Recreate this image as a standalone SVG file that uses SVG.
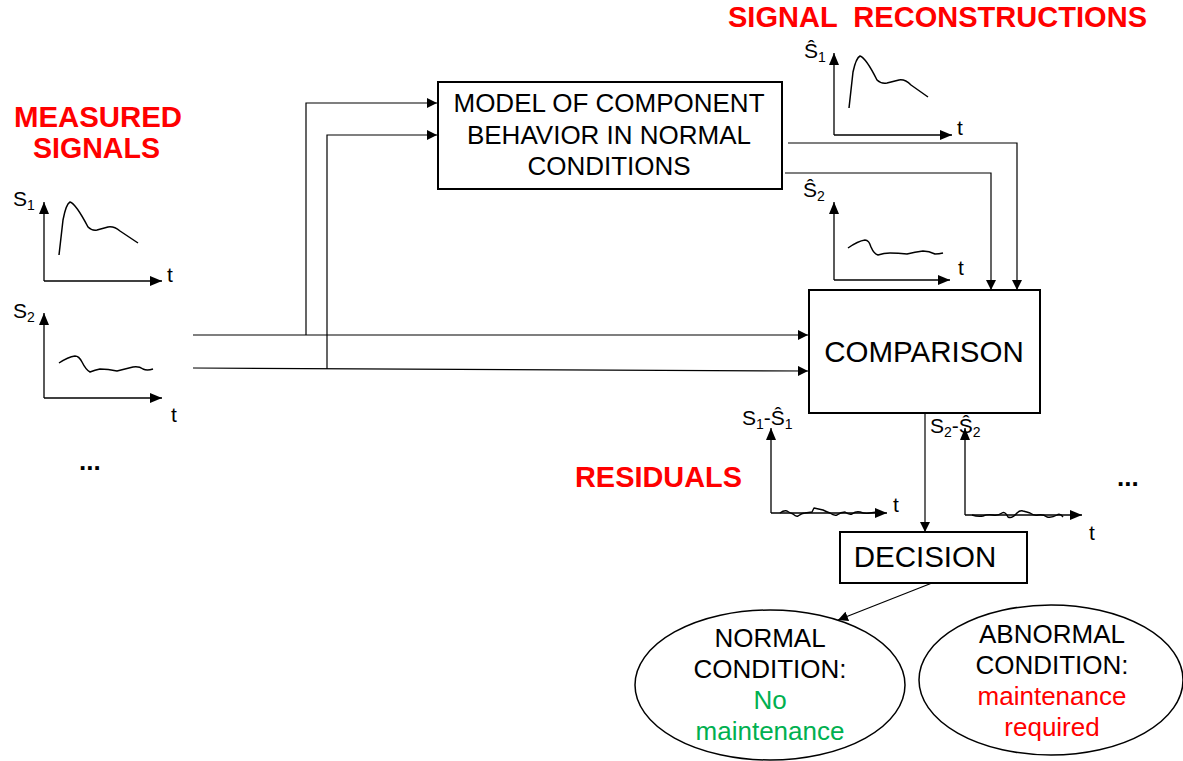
<svg xmlns="http://www.w3.org/2000/svg" width="1183" height="761" viewBox="0 0 1183 761">
  <defs>
    <marker id="arrow" viewBox="0 0 10 10" refX="10" refY="5" markerWidth="10" markerHeight="10" markerUnits="userSpaceOnUse" orient="auto">
      <path d="M0,0 L10,5 L0,10 Z" fill="#000"/>
    </marker>
    <marker id="axis" viewBox="0 0 12 10" refX="12" refY="5" markerWidth="12" markerHeight="10" markerUnits="userSpaceOnUse" orient="auto">
      <path d="M0,0 L12,5 L0,10 Z" fill="#000"/>
    </marker>
  </defs>
  <style>
    text { font-family: "Liberation Sans", Arial, sans-serif; fill: #000; }
    .title { font-weight: bold; font-size: 29px; fill: #ff0000; }
    .box { fill: #fff; stroke: #000; stroke-width: 2; }
    .ell { fill: #fff; stroke: #000; stroke-width: 1.5; }
    .boxtxt { font-size: 26px; text-anchor: middle; }
    .big { font-size: 29.5px; }
    .conn { fill: none; stroke: #000; stroke-width: 1.2; }
    .ax { fill: none; stroke: #000; stroke-width: 1.3; }
    .curve { fill: none; stroke: #000; stroke-width: 1.5; stroke-linejoin: round; }
    .noise { fill: none; stroke: #000; stroke-width: 1.4; stroke-linejoin: round; }
    .lbl { font-size: 21px; }
    .sub { font-size: 14px; }
    .green { fill: #00b050; }
    .red { fill: #ff0000; }
    .dots { font-size: 26px; font-weight: bold; }
  </style>

  <rect width="1183" height="761" fill="#fff"/>

  <!-- section headings -->
  <g id="headings">
    <text class="title" x="14" y="127" textLength="168" lengthAdjust="spacingAndGlyphs">MEASURED</text>
    <text class="title" x="33" y="158" textLength="127" lengthAdjust="spacingAndGlyphs">SIGNALS</text>
    <text class="title" x="728" y="27" textLength="419" lengthAdjust="spacing" xml:space="preserve">SIGNAL  RECONSTRUCTIONS</text>
    <text class="title" x="575" y="487" textLength="167" lengthAdjust="spacingAndGlyphs">RESIDUALS</text>
  </g>

  <!-- connectors -->
  <g id="connectors">
    <polyline class="conn" points="193,335 808,335" marker-end="url(#arrow)"/>
    <polyline class="conn" points="193,368 808,371" marker-end="url(#arrow)"/>
    <polyline class="conn" points="306,335 306,103 437,103" marker-end="url(#arrow)"/>
    <polyline class="conn" points="327,369 327,135 437,135" marker-end="url(#arrow)"/>
    <polyline class="conn" points="788,143 1017,143 1017,290" marker-end="url(#arrow)"/>
    <polyline class="conn" points="785,173 991,173 991,290" marker-end="url(#arrow)"/>
    <polyline class="conn" points="925,414 925,532" marker-end="url(#arrow)"/>
    <line class="conn" x1="932" y1="583" x2="838" y2="620" marker-end="url(#arrow)"/>
  </g>

  <!-- measured signal S1 -->
  <g id="plot-s1">
    <polyline class="ax" points="44,281 44,202" marker-end="url(#axis)"/>
    <polyline class="ax" points="44,281 162,281" marker-end="url(#axis)"/>
    <path class="curve" d="M59,255 L63,220 Q66,204 70,202 Q76,204 88,227 Q92,231 97,230 L108,227 Q114,226 120,231 L138,243"/>
    <text class="lbl" x="13" y="206">S<tspan class="sub" dy="4">1</tspan></text>
    <text class="lbl" x="167" y="282">t</text>
  </g>

  <!-- measured signal S2 -->
  <g id="plot-s2">
    <polyline class="ax" points="44,398 44,313" marker-end="url(#axis)"/>
    <polyline class="ax" points="44,398 162,398" marker-end="url(#axis)"/>
    <path class="curve" d="M59,363 Q68,357 75,356 Q79,356 82,362 Q86,370 90,372 Q95,370 100,369 Q108,369 117,371 Q125,369 133,367 Q139,366 143,369 Q147,371 153,369"/>
    <text class="lbl" x="13" y="318">S<tspan class="sub" dy="4">2</tspan></text>
    <text class="lbl" x="171" y="422">t</text>
  </g>

  <text class="dots" x="79" y="470">...</text>

  <!-- model block -->
  <g id="model">
    <rect class="box" x="438" y="82" width="344" height="107"/>
    <text class="boxtxt" x="609" y="112">MODEL OF COMPONENT</text>
    <text class="boxtxt" x="609" y="144">BEHAVIOR IN NORMAL</text>
    <text class="boxtxt" x="609" y="175">CONDITIONS</text>
  </g>

  <!-- reconstructed signal S1 -->
  <g id="plot-s1-hat">
    <polyline class="ax" points="834,135 834,53" marker-end="url(#axis)"/>
    <polyline class="ax" points="834,135 952,135" marker-end="url(#axis)"/>
    <path class="curve" d="M849,108 L853,72 Q856,58 860,56 Q866,58 877,80 Q881,84 887,83 L899,80 Q905,79 911,85 L928,97"/>
    <text class="lbl" x="804" y="58">Ŝ<tspan class="sub" dy="4">1</tspan></text>
    <text class="lbl" x="957" y="135">t</text>
  </g>

  <!-- reconstructed signal S2 -->
  <g id="plot-s2-hat">
    <polyline class="ax" points="834,280 834,202" marker-end="url(#axis)"/>
    <polyline class="ax" points="834,280 950,280" marker-end="url(#axis)"/>
    <path class="curve" d="M848,248 Q858,241 865,240 Q869,240 871,247 Q874,254 878,255 Q884,253 890,253 Q898,253 907,254 Q915,252 923,251 Q929,251 935,254 Q939,254 943,253"/>
    <text class="lbl" x="803" y="197">Ŝ<tspan class="sub" dy="4">2</tspan></text>
    <text class="lbl" x="958" y="275">t</text>
  </g>

  <!-- comparison block -->
  <g id="comparison">
    <rect class="box" x="809" y="290" width="231" height="123"/>
    <text class="boxtxt big" x="924" y="362">COMPARISON</text>
  </g>

  <!-- residual S1 - S1hat -->
  <g id="residual-1">
    <polyline class="ax" points="771,513 771,428" marker-end="url(#axis)"/>
    <polyline class="ax" points="771,513 887,513" marker-end="url(#axis)"/>
    <path class="noise" d="M780,513 Q784,510 787,511 Q790,513 793,514 Q796,517 798,516 Q802,513 805,513 L812,512 L814,508 L823,510 Q827,512 830,513 Q834,516 837,515 Q841,512 845,512 Q849,515 852,514 Q856,511 860,512 Q865,514 870,513 L877,512"/>
    <text class="lbl" x="742" y="425">S<tspan class="sub" dy="4">1</tspan><tspan dy="-4">-Ŝ</tspan><tspan class="sub" dy="4">1</tspan></text>
    <text class="lbl" x="893" y="512">t</text>
  </g>

  <!-- residual S2 - S2hat -->
  <g id="residual-2">
    <polyline class="ax" points="965,515 965,428" marker-end="url(#axis)"/>
    <polyline class="ax" points="965,515 1082,515" marker-end="url(#axis)"/>
    <path class="noise" d="M972,515 Q978,517 983,516 Q988,514 993,515 Q998,516 1002,513 Q1005,511 1008,517 Q1012,519 1017,513 Q1020,510 1023,511 Q1027,512 1030,513 Q1034,516 1038,515 Q1043,514 1047,517 Q1052,518 1057,515 Q1060,513 1063,517"/>
    <text class="lbl" x="930" y="433">S<tspan class="sub" dy="4">2</tspan><tspan dy="-4">-Ŝ</tspan><tspan class="sub" dy="4">2</tspan></text>
    <text class="lbl" x="1089" y="540">t</text>
  </g>

  <text class="dots" x="1117" y="486">...</text>

  <!-- decision block -->
  <g id="decision">
    <rect class="box" x="840" y="532" width="187" height="51"/>
    <text class="boxtxt big" x="925" y="567">DECISION</text>
  </g>

  <!-- outcome: normal -->
  <g id="normal-condition">
    <ellipse class="ell" cx="770" cy="685" rx="135" ry="75"/>
    <text class="boxtxt" x="770" y="647">NORMAL</text>
    <text class="boxtxt" x="770" y="678">CONDITION:</text>
    <text class="boxtxt green" x="770" y="709">No</text>
    <text class="boxtxt green" x="770" y="740">maintenance</text>
  </g>

  <!-- outcome: abnormal -->
  <g id="abnormal-condition">
    <ellipse class="ell" cx="1051" cy="680" rx="132" ry="75"/>
    <text class="boxtxt" x="1052" y="643">ABNORMAL</text>
    <text class="boxtxt" x="1052" y="674">CONDITION:</text>
    <text class="boxtxt red" x="1052" y="705">maintenance</text>
    <text class="boxtxt red" x="1052" y="736">required</text>
  </g>
</svg>
